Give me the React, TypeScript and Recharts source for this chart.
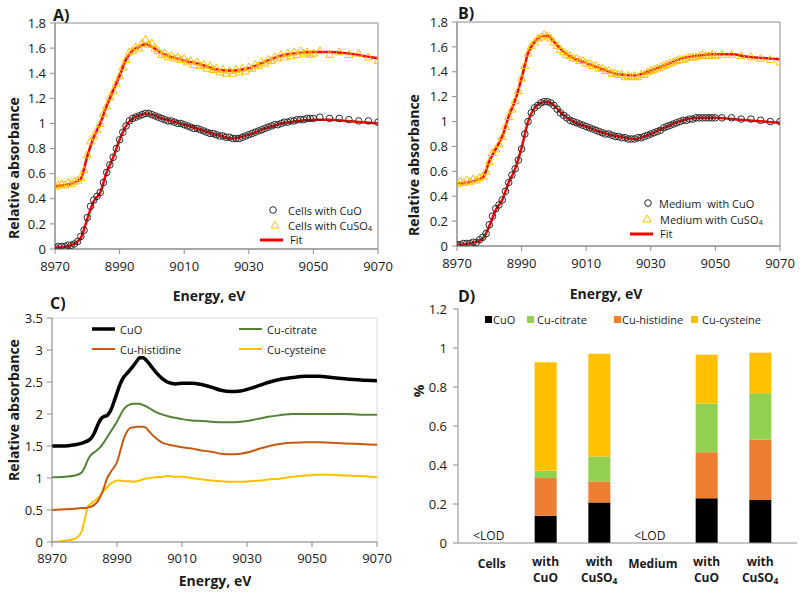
import React from 'react';
import {
  ComposedChart,
  LineChart,
  BarChart,
  Line,
  Bar,
  Scatter,
  XAxis,
  YAxis,
  ReferenceArea,
  Legend,
} from 'recharts';

const FONT = "'Open Sans', 'DejaVu Sans', sans-serif";
const AXIS = '#8c8c8c';
const TEXT = '#1a1a1a';

// ---------- panels A / B : measured XANES scans + fits ----------
const scanEnergy = [
  8970, 8971, 8972, 8973, 8974, 8975, 8976, 8977, 8978, 8979,
  8980, 8981, 8982, 8983, 8984, 8985, 8986, 8987, 8988, 8989,
  8990, 8991, 8992, 8993, 8994, 8995, 8996, 8997, 8998, 8999,
  9000, 9001, 9002, 9003, 9004, 9005, 9006, 9007, 9008, 9009,
  9010, 9011, 9012, 9013, 9014, 9015, 9016, 9017, 9018, 9019,
  9020, 9021, 9022, 9023, 9024, 9025, 9026, 9027, 9028, 9029,
  9030, 9031, 9032, 9033, 9034, 9035, 9036, 9037, 9038, 9039,
  9040, 9041, 9042, 9043, 9044, 9045, 9046, 9047, 9048, 9049,
  9050, 9052, 9055, 9058, 9061, 9064, 9067, 9070,
];

const cellsCuO = [
  0.01, 0.02, 0.02, 0.02, 0.03, 0.03, 0.04, 0.06, 0.1, 0.15,
  0.25, 0.34, 0.39, 0.42, 0.45, 0.53, 0.61, 0.67, 0.73, 0.8,
  0.87, 0.93, 0.98, 1.02, 1.04, 1.05, 1.06, 1.07, 1.08, 1.08,
  1.07, 1.06, 1.05, 1.04, 1.03, 1.02, 1.02, 1.01, 1.0, 1.0,
  0.99, 0.98, 0.97, 0.96, 0.96, 0.95, 0.94, 0.93, 0.92, 0.92,
  0.91, 0.9, 0.9, 0.89, 0.89, 0.88, 0.88, 0.88, 0.89, 0.9,
  0.91, 0.92, 0.93, 0.94, 0.95, 0.96, 0.97, 0.98, 0.99, 0.99,
  1.0, 1.01, 1.01, 1.02, 1.02, 1.03, 1.03, 1.03, 1.04, 1.04,
  1.04, 1.05, 1.04, 1.04, 1.03, 1.02, 1.02, 1.01,
];

const cellsCuSO4 = [
  0.5, 0.51, 0.52, 0.51, 0.53, 0.52, 0.54, 0.55, 0.57, 0.63,
  0.75, 0.86, 0.9, 0.95, 1.0, 1.08, 1.14, 1.21, 1.26, 1.32,
  1.38, 1.45, 1.51, 1.57, 1.58, 1.61, 1.6, 1.64, 1.67, 1.63,
  1.64, 1.6, 1.58, 1.55, 1.56, 1.53, 1.54, 1.52, 1.53, 1.51,
  1.52, 1.49, 1.5, 1.47, 1.49, 1.46, 1.47, 1.44, 1.46, 1.43,
  1.44, 1.41, 1.43, 1.4, 1.42, 1.4, 1.43, 1.41, 1.44, 1.42,
  1.45, 1.44, 1.47, 1.46, 1.49, 1.48, 1.51, 1.5, 1.53, 1.52,
  1.55, 1.53, 1.56, 1.54, 1.57, 1.55, 1.58, 1.56, 1.57, 1.55,
  1.56, 1.58, 1.55, 1.57, 1.55, 1.56, 1.53, 1.5,
];

const mediumCuO = [
  0.01, 0.01, 0.02, 0.02, 0.02, 0.03, 0.03, 0.05, 0.07, 0.1,
  0.17, 0.24, 0.3, 0.33, 0.37, 0.44, 0.51, 0.57, 0.62, 0.69,
  0.78, 0.9, 1.0, 1.07, 1.11, 1.13, 1.15, 1.16, 1.16, 1.15,
  1.13, 1.1, 1.07, 1.05, 1.03, 1.01, 1.0, 0.99, 0.98, 0.97,
  0.96, 0.95, 0.94, 0.93, 0.92, 0.91, 0.9, 0.9, 0.89, 0.88,
  0.88, 0.87, 0.87, 0.86, 0.86, 0.86, 0.87, 0.87, 0.88, 0.89,
  0.9, 0.91, 0.92, 0.93, 0.95, 0.96, 0.97, 0.98, 0.99, 1.0,
  1.01, 1.01, 1.02, 1.02, 1.03, 1.03, 1.03, 1.03, 1.03, 1.03,
  1.03, 1.03, 1.03, 1.02, 1.02, 1.01, 1.0, 1.0,
];

const mediumCuSO4 = [
  0.5, 0.52, 0.51, 0.53, 0.52, 0.54, 0.53, 0.55, 0.56, 0.6,
  0.68, 0.75, 0.78, 0.82, 0.88, 0.96, 1.04, 1.1, 1.17, 1.25,
  1.35, 1.45, 1.55, 1.61, 1.64, 1.67, 1.68, 1.7, 1.69, 1.67,
  1.64, 1.61, 1.58, 1.56, 1.54, 1.53, 1.51, 1.51, 1.49, 1.49,
  1.47, 1.47, 1.45, 1.45, 1.43, 1.43, 1.41, 1.41, 1.39, 1.39,
  1.38, 1.38, 1.36, 1.37, 1.36, 1.37, 1.36, 1.38, 1.38, 1.4,
  1.41, 1.42, 1.43, 1.44, 1.45, 1.46, 1.47, 1.48, 1.49, 1.5,
  1.5, 1.51, 1.52, 1.52, 1.52, 1.53, 1.54, 1.53, 1.53, 1.54,
  1.53, 1.54, 1.54, 1.53, 1.52, 1.51, 1.5, 1.48,
];

const fitEnergy = [
  8970, 8975, 8978, 8980, 8982, 8984, 8986, 8988, 8990, 8992, 8994, 8996, 8998, 9000,
  9003, 9006, 9010, 9015, 9020, 9025, 9030, 9035, 9040, 9045, 9050, 9055, 9060, 9065, 9070,
];
const fitCellsCuO = [
  0.01, 0.03, 0.09, 0.24, 0.38, 0.45, 0.61, 0.73, 0.87, 0.98, 1.04, 1.06, 1.08, 1.07,
  1.04, 1.02, 0.99, 0.95, 0.91, 0.88, 0.91, 0.96, 1.0, 1.02, 1.03, 1.03, 1.02, 1.01, 1.0,
];
const fitCellsCuSO4 = [
  0.5, 0.52, 0.56, 0.74, 0.89, 1.0, 1.14, 1.26, 1.38, 1.51, 1.58, 1.61, 1.63, 1.61,
  1.56, 1.53, 1.5, 1.47, 1.43, 1.42, 1.44, 1.49, 1.54, 1.56, 1.57, 1.57, 1.56, 1.54, 1.52,
];
const fitMediumCuO = [
  0.01, 0.025, 0.06, 0.16, 0.29, 0.37, 0.51, 0.62, 0.79, 1.0, 1.11, 1.15, 1.16, 1.13,
  1.05, 1.0, 0.96, 0.91, 0.88, 0.86, 0.9, 0.96, 1.01, 1.03, 1.03, 1.02, 1.01, 1.0, 0.99,
];
const fitMediumCuSO4 = [
  0.5, 0.52, 0.55, 0.68, 0.78, 0.88, 1.04, 1.17, 1.35, 1.55, 1.64, 1.68, 1.69, 1.64,
  1.56, 1.51, 1.47, 1.42, 1.38, 1.37, 1.41, 1.46, 1.51, 1.53, 1.54, 1.54, 1.52, 1.51, 1.5,
];

const energyTicks = [8970, 8990, 9010, 9030, 9050, 9070];
const scanTicks = [0, 0.2, 0.4, 0.6, 0.8, 1, 1.2, 1.4, 1.6, 1.8];

// ---------- panel C : reference compounds ----------
const refEnergy = [
  8970, 8974, 8977, 8979, 8980, 8981, 8982, 8983, 8984, 8985, 8986, 8987, 8988, 8989,
  8990, 8991, 8992, 8993, 8994, 8995, 8996, 8997, 8998, 8999, 9000, 9002, 9004, 9006,
  9008, 9010, 9013, 9016, 9019, 9022, 9025, 9028, 9031, 9034, 9037, 9040, 9044, 9048,
  9052, 9056, 9060, 9065, 9070,
];
const refCuO = [
  1.5, 1.5, 1.52, 1.54, 1.56, 1.58, 1.62, 1.7, 1.82, 1.92, 1.96, 1.98, 2.05, 2.18,
  2.33, 2.47, 2.57, 2.63, 2.69, 2.75, 2.82, 2.88, 2.88, 2.84, 2.78, 2.65, 2.55, 2.49,
  2.47, 2.48, 2.48, 2.46, 2.42, 2.37, 2.35, 2.36, 2.4, 2.45, 2.5, 2.54, 2.57, 2.59,
  2.59, 2.57, 2.55, 2.53, 2.52,
];
const refCitrate = [
  1.01, 1.02, 1.04, 1.08, 1.16, 1.28, 1.36, 1.4, 1.44, 1.49, 1.56, 1.64, 1.72, 1.8,
  1.88, 1.98, 2.07, 2.12, 2.15, 2.16, 2.16, 2.16, 2.14, 2.12, 2.09, 2.03, 1.99, 1.96,
  1.94, 1.92, 1.9, 1.89, 1.88, 1.87, 1.87, 1.88, 1.9, 1.93, 1.96, 1.98, 2.0, 2.0,
  2.0, 2.0, 2.0, 1.99, 1.99,
];
const refHistidine = [
  0.5, 0.51, 0.52, 0.53, 0.53, 0.54, 0.55, 0.58, 0.63, 0.72, 0.85, 1.0, 1.09, 1.16,
  1.25, 1.42, 1.6, 1.72, 1.78, 1.79, 1.8, 1.8, 1.8, 1.78, 1.72, 1.62, 1.55, 1.52,
  1.5, 1.48, 1.46, 1.43, 1.41, 1.38, 1.37, 1.38, 1.41, 1.46, 1.5, 1.53, 1.55, 1.56,
  1.56, 1.55, 1.54, 1.53, 1.52,
];
const refCysteine = [
  0.0, 0.02, 0.05, 0.15, 0.34, 0.54, 0.6, 0.64, 0.68, 0.74, 0.8, 0.86, 0.91, 0.94,
  0.96, 0.96, 0.95, 0.95, 0.95, 0.94, 0.95, 0.96, 0.98, 0.99, 1.0, 1.01, 1.02, 1.03,
  1.02, 1.02, 1.0, 0.98, 0.96, 0.95, 0.94, 0.94, 0.95, 0.96, 0.98, 0.99, 1.02, 1.04,
  1.05, 1.05, 1.04, 1.03, 1.01,
];
const refTicks = [0, 0.5, 1, 1.5, 2, 2.5, 3, 3.5];

// ---------- panel D : linear combination fractions ----------
const groups = ['Cells', 'with CuO', 'with CuSO4', 'Medium', 'with CuO', 'with CuSO4'];
const groupTop = ['Cells', 'with', 'with', 'Medium', 'with', 'with'];
const groupBottom = ['', 'CuO', 'CuSO4', '', 'CuO', 'CuSO4'];
const lodNote = ['<LOD', '', '', '<LOD', '', ''];
const fracCuO = [0, 0.14, 0.208, 0, 0.229, 0.22];
const fracHistidine = [0, 0.193, 0.108, 0, 0.237, 0.309];
const fracCitrate = [0, 0.037, 0.128, 0, 0.249, 0.239];
const fracCysteine = [0, 0.557, 0.526, 0, 0.25, 0.208];
const fracTicks = [0, 0.2, 0.4, 0.6, 0.8, 1, 1.2];

const C_CUO = '#000000';
const C_CITRATE_LINE = '#548235';
const C_CITRATE_BAR = '#92d050';
const C_HIS_LINE = '#c55a11';
const C_HIS_BAR = '#ed7d31';
const C_CYS = '#ffc000';

const toPoints = (xs: number[], ys: number[]) => xs.map((x, i) => ({ x, y: ys[i] }));

const refRows = refEnergy.map((x, i) => ({
  x,
  cuo: refCuO[i],
  citrate: refCitrate[i],
  histidine: refHistidine[i],
  cysteine: refCysteine[i],
}));

const fracRows = groups.map((name, i) => ({
  name,
  cuo: fracCuO[i],
  histidine: fracHistidine[i],
  citrate: fracCitrate[i],
  cysteine: fracCysteine[i],
}));

// trailing "4" in CuSO4 drawn as subscript
const withSub = (s: string) =>
  s.endsWith('SO4') ? (
    <>
      {s.slice(0, -1)}
      <tspan dy={2.5} fontSize="0.7em">4</tspan>
    </>
  ) : (
    s
  );

const triPath = (cx: number, cy: number) =>
  `M${cx},${cy - 4} L${cx + 4},${cy + 3} L${cx - 4},${cy + 3} Z`;

const OpenCircle = (p: any) => (
  <circle cx={p.cx} cy={p.cy} r={3.3} fill="none" stroke="#2b2b2b" strokeWidth={1} />
);
const OpenTriangle = (p: any) => (
  <path d={triPath(p.cx, p.cy)} fill="none" stroke={C_CYS} strokeWidth={1} />
);

const tickStyle = { fill: TEXT, fontSize: 13 };

// legend rows: marker x, row y, text x
const ScanLegend = (p: { names: string[]; rows: number[][] }) => (
  <svg width={170} height={48} style={{ overflow: 'visible', fontFamily: FONT }}>
    <circle cx={p.rows[0][0]} cy={p.rows[0][1]} r={3.3} fill="none" stroke="#2b2b2b" />
    <text x={p.rows[0][2]} y={p.rows[0][1]} dominantBaseline="central" fontSize={11} fill={TEXT} style={{ whiteSpace: 'pre' }}>
      {p.names[0]}
    </text>
    <path d={triPath(p.rows[1][0], p.rows[1][1])} fill="none" stroke={C_CYS} />
    <text x={p.rows[1][2]} y={p.rows[1][1]} dominantBaseline="central" fontSize={11} fill={TEXT}>
      {withSub(p.names[1])}
    </text>
    <line x1={5} x2={28} y1={p.rows[2][1] + 1} y2={p.rows[2][1] + 1} stroke="#ff0000" strokeWidth={3} />
    <text x={p.rows[2][2]} y={p.rows[2][1]} dominantBaseline="central" fontSize={11} fill={TEXT}>
      Fit
    </text>
  </svg>
);

const Titles = (p: {
  w: number;
  h: number;
  letter: string;
  lx: number;
  ly: number;
  xTitle?: string;
  xx?: number;
  xy?: number;
  yTitle: string;
  yx: number;
  yy: number;
}) => (
  <svg
    width={p.w}
    height={p.h}
    style={{ position: 'absolute', left: 0, top: 0, overflow: 'visible', pointerEvents: 'none', fontFamily: FONT }}
  >
    <text x={p.lx} y={p.ly} dominantBaseline="central" fontSize={16} fontWeight="bold" fill={TEXT}>
      {p.letter}
    </text>
    {p.xTitle && (
      <text x={p.xx} y={p.xy} textAnchor="middle" dominantBaseline="central" fontSize={14} fontWeight="bold" fill={TEXT}>
        {p.xTitle}
      </text>
    )}
    <text
      transform={`translate(${p.yx},${p.yy}) rotate(-90)`}
      textAnchor="middle"
      dominantBaseline="central"
      fontSize={14}
      fontWeight="bold"
      fill={TEXT}
    >
      {p.yTitle}
    </text>
  </svg>
);

function ScanChart(props: {
  circles: { x: number; y: number }[];
  triangles: { x: number; y: number }[];
  fitA: { x: number; y: number }[];
  fitB: { x: number; y: number }[];
  names: string[];
  rows: number[][];
  margin: { top: number; right: number; bottom: number; left: number };
  yWidth: number;
  legendLeft: number;
  legendTop: number;
}) {
  return (
    <ComposedChart width={400} height={300} margin={props.margin}>
      <XAxis
        type="number"
        dataKey="x"
        domain={[8970, 9070]}
        ticks={energyTicks}
        allowDataOverflow
        height={30}
        tickSize={5}
        tickMargin={8}
        stroke={AXIS}
        tick={tickStyle}
      />
      <YAxis
        type="number"
        dataKey="y"
        domain={[0, 1.8]}
        ticks={scanTicks}
        allowDataOverflow
        width={props.yWidth}
        tickSize={5}
        tickMargin={4}
        stroke={AXIS}
        tick={tickStyle}
      />
      <ReferenceArea x1={8970} x2={9070} y1={0} y2={1.8} fill="none" stroke={AXIS} strokeWidth={1} />
      <Scatter data={props.circles} shape={OpenCircle} isAnimationActive={false} />
      <Scatter data={props.triangles} shape={OpenTriangle} isAnimationActive={false} />
      <Line data={props.fitA} dataKey="y" type="monotone" stroke="#ff0000" strokeWidth={2.5} dot={false} isAnimationActive={false} />
      <Line data={props.fitB} dataKey="y" type="monotone" stroke="#ff0000" strokeWidth={2.5} dot={false} isAnimationActive={false} />
      <Legend
        layout="vertical"
        align="center"
        verticalAlign="middle"
        wrapperStyle={{ left: props.legendLeft, top: props.legendTop, width: 170 }}
        content={() => <ScanLegend names={props.names} rows={props.rows} />}
      />
    </ComposedChart>
  );
}

const refLegend = [
  { name: 'CuO', color: C_CUO, width: 3.5, x: 7, y: 11 },
  { name: 'Cu-citrate', color: C_CITRATE_LINE, width: 2, x: 154, y: 11 },
  { name: 'Cu-histidine', color: C_HIS_LINE, width: 2, x: 7, y: 31 },
  { name: 'Cu-cysteine', color: C_CYS, width: 2, x: 154, y: 31 },
];

const RefLegend = () => (
  <svg width={280} height={42} style={{ overflow: 'visible', fontFamily: FONT }}>
    {refLegend.map((it) => (
      <g key={it.name}>
        <line x1={it.x} x2={it.x + 23} y1={it.y} y2={it.y} stroke={it.color} strokeWidth={it.width} />
        <text x={it.x + 28} y={it.y} dominantBaseline="central" fontSize={11} fill={TEXT}>
          {it.name}
        </text>
      </g>
    ))}
  </svg>
);

const fracLegend = [
  { name: 'CuO', color: C_CUO, sx: 5, tx: 13 },
  { name: 'Cu-citrate', color: C_CITRATE_BAR, sx: 47, tx: 57 },
  { name: 'Cu-histidine', color: C_HIS_BAR, sx: 134, tx: 142 },
  { name: 'Cu-cysteine', color: C_CYS, sx: 211, tx: 222 },
];

const FracLegend = () => (
  <svg width={300} height={20} style={{ overflow: 'visible', fontFamily: FONT }}>
    {fracLegend.map((it) => (
      <g key={it.name}>
        <rect x={it.sx} y={6} width={7} height={7} fill={it.color} />
        <text x={it.tx} y={9} dominantBaseline="central" fontSize={11} fill={TEXT}>
          {it.name}
        </text>
      </g>
    ))}
  </svg>
);

const GroupTick = (p: any) => {
  const i = p.index ?? p.payload?.index ?? 0;
  const top = groupTop[i];
  const bottom = groupBottom[i];
  const note = lodNote[i];
  const lbl = { textAnchor: 'middle' as const, dominantBaseline: 'central' as const, fill: TEXT };
  return (
    <g>
      {note && (
        <text x={p.x - 3} y={p.y - 8} {...lbl} fontSize={12}>
          {note}
        </text>
      )}
      {bottom ? (
        <>
          <text x={p.x} y={p.y + 18} {...lbl} fontSize={12} fontWeight="bold">
            {top}
          </text>
          <text x={p.x} y={p.y + 34} {...lbl} fontSize={12} fontWeight="bold">
            {withSub(bottom)}
          </text>
        </>
      ) : (
        <text x={p.x} y={p.y + 20} {...lbl} fontSize={12} fontWeight="bold">
          {top}
        </text>
      )}
    </g>
  );
};

export default function App() {
  return (
    <div
      style={{
        position: 'absolute',
        left: 0,
        top: 0,
        width: 800,
        height: 593,
        background: '#ffffff',
        fontFamily: FONT,
        overflow: 'hidden',
      }}
    >
      {/* A */}
      <div style={{ position: 'absolute', left: 0, top: 0, width: 400, height: 300 }}>
        <ScanChart
          circles={toPoints(scanEnergy, cellsCuO)}
          triangles={toPoints(scanEnergy, cellsCuSO4)}
          fitA={toPoints(fitEnergy, fitCellsCuO)}
          fitB={toPoints(fitEnergy, fitCellsCuSO4)}
          names={['Cells with CuO', 'Cells with CuSO4']}
          rows={[[18, 10, 33], [20, 25, 33], [0, 39, 35]]}
          margin={{ top: 23, right: 22, bottom: 21, left: 0 }}
          yWidth={55}
          legendLeft={255}
          legendTop={200}
        />
        <Titles w={400} h={300} letter="A)" lx={53} ly={15} xTitle="Energy, eV" xx={209} xy={295} yTitle="Relative absorbance" yx={13} yy={168} />
      </div>

      {/* B */}
      <div style={{ position: 'absolute', left: 400, top: 0, width: 400, height: 300 }}>
        <ScanChart
          circles={toPoints(scanEnergy, mediumCuO)}
          triangles={toPoints(scanEnergy, mediumCuSO4)}
          fitA={toPoints(fitEnergy, fitMediumCuO)}
          fitB={toPoints(fitEnergy, fitMediumCuSO4)}
          names={['Medium  with CuO', 'Medium with CuSO4']}
          rows={[[23, 8, 34], [22, 24, 35], [0, 38, 35]]}
          margin={{ top: 22, right: 20, bottom: 24, left: 0 }}
          yWidth={57}
          legendLeft={225}
          legendTop={195}
        />
        <Titles w={400} h={300} letter="B)" lx={58} ly={13} xTitle="Energy, eV" xx={206} xy={293} yTitle="Relative absorbance" yx={13} yy={165} />
      </div>

      {/* C */}
      <div style={{ position: 'absolute', left: 0, top: 300, width: 400, height: 293 }}>
        <LineChart width={400} height={293} data={refRows} margin={{ top: 18, right: 23, bottom: 21, left: 0 }}>
          <XAxis
            type="number"
            dataKey="x"
            domain={[8970, 9070]}
            ticks={energyTicks}
            allowDataOverflow
            height={30}
            tickSize={5}
            tickMargin={7}
            stroke={AXIS}
            tick={tickStyle}
          />
          <YAxis
            type="number"
            domain={[0, 3.5]}
            ticks={refTicks}
            allowDataOverflow
            width={52}
            tickSize={5}
            tickMargin={4}
            stroke={AXIS}
            tick={tickStyle}
          />
          <ReferenceArea x1={8970} x2={9070} y1={0} y2={3.5} fill="none" stroke="#d9d9d9" strokeWidth={1} />
          <Line dataKey="cysteine" type="monotone" stroke={C_CYS} strokeWidth={2} dot={false} isAnimationActive={false} />
          <Line dataKey="histidine" type="monotone" stroke={C_HIS_LINE} strokeWidth={2} dot={false} isAnimationActive={false} />
          <Line dataKey="citrate" type="monotone" stroke={C_CITRATE_LINE} strokeWidth={2} dot={false} isAnimationActive={false} />
          <Line dataKey="cuo" type="monotone" stroke={C_CUO} strokeWidth={3.5} dot={false} isAnimationActive={false} />
          <Legend
            layout="vertical"
            align="center"
            verticalAlign="middle"
            wrapperStyle={{ left: 85, top: 18, width: 280 }}
            content={() => <RefLegend />}
          />
        </LineChart>
        <Titles w={400} h={293} letter="C)" lx={50} ly={3} xTitle="Energy, eV" xx={215} xy={280} yTitle="Relative absorbance" yx={13} yy={110} />
      </div>

      {/* D */}
      <div style={{ position: 'absolute', left: 400, top: 300, width: 400, height: 293 }}>
        <BarChart width={400} height={293} data={fracRows} margin={{ top: 9, right: 3, bottom: 5, left: 0 }} barSize={22}>
          <XAxis
            dataKey="name"
            height={45}
            interval={0}
            padding={{ left: 7, right: 10 }}
            tickLine={false}
            tickSize={0}
            tickMargin={0}
            stroke={AXIS}
            tick={(p: any) => <GroupTick {...p} />}
          />
          <XAxis xAxisId="frame" orientation="top" dataKey="name" height={0} tick={false} tickLine={false} stroke={AXIS} />
          <YAxis
            type="number"
            domain={[0, 1.2]}
            ticks={fracTicks}
            width={58}
            tickSize={5}
            tickMargin={6}
            stroke={AXIS}
            tick={tickStyle}
          />
          <YAxis yAxisId="frame" orientation="right" domain={[0, 1.2]} width={0} tick={false} tickLine={false} stroke={AXIS} />
          <Bar dataKey="cuo" stackId="f" fill={C_CUO} isAnimationActive={false} />
          <Bar dataKey="histidine" stackId="f" fill={C_HIS_BAR} isAnimationActive={false} />
          <Bar dataKey="citrate" stackId="f" fill={C_CITRATE_BAR} isAnimationActive={false} />
          <Bar dataKey="cysteine" stackId="f" fill={C_CYS} isAnimationActive={false} />
          <Legend
            layout="vertical"
            align="center"
            verticalAlign="middle"
            wrapperStyle={{ left: 80, top: 10, width: 300 }}
            content={() => <FracLegend />}
          />
        </BarChart>
        <Titles w={400} h={293} letter="D)" lx={58} ly={-4} yTitle="%" yx={18} yy={91} />
      </div>
    </div>
  );
}
